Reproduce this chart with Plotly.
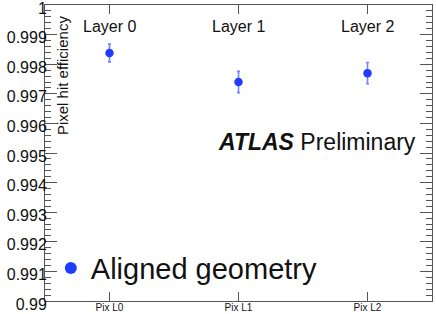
import plotly.graph_objects as go

layers = ["Pix L0", "Pix L1", "Pix L2"]
layer_pos = [0.5, 1.5, 2.5]
efficiency = [0.99838, 0.99740, 0.99770]
eff_err = [0.00030, 0.00036, 0.00036]
layer_names = ["Layer 0", "Layer 1", "Layer 2"]
ytick_vals = [0.99, 0.991, 0.992, 0.993, 0.994, 0.995, 0.996, 0.997, 0.998, 0.999, 1.0]
ytick_text = ["0.99", "0.991", "0.992", "0.993", "0.994", "0.995", "0.996", "0.997", "0.998", "0.999", "1"]

font = "Liberation Sans, Arial, sans-serif"
frame = "#555555"

fig = go.Figure()
fig.add_trace(go.Scatter(
    x=layer_pos, y=efficiency, mode="markers", name="Aligned geometry",
    marker=dict(color="#1f3cff", size=8.5),
    error_y=dict(type="data", array=eff_err, color="#6f86ff", thickness=1.6, width=1.5),
))

for xp, nm in zip(layer_pos, layer_names):
    fig.add_annotation(x=xp, y=0.99929, xref="x", yref="y", text=nm, showarrow=False,
                       font=dict(family=font, size=16, color="#111"))

fig.add_annotation(x=0.964, y=0.99537, xref="paper", yref="y", xanchor="right",
                   text="<b><i>ATLAS</i></b> Preliminary", showarrow=False,
                   font=dict(family=font, size=23, color="#111"))
fig.add_annotation(x=0.044, y=0.76, xref="paper", yref="paper",
                   xanchor="center", yanchor="middle", textangle=-90,
                   text="Pixel hit efficiency", showarrow=False,
                   font=dict(family=font, size=15, color="#111"))

fig.update_layout(
    width=436, height=314,
    margin=dict(l=45, r=4, t=5, b=13),
    paper_bgcolor="white", plot_bgcolor="white",
    showlegend=True,
    legend=dict(x=0.015, y=0.111, xanchor="left", yanchor="middle",
                font=dict(family=font, size=29, color="#111"),
                bgcolor="rgba(0,0,0,0)", itemsizing="constant", itemwidth=30),
    xaxis=dict(range=[0, 3], tickvals=layer_pos, ticktext=layers,
               ticks="inside", ticklen=9, tickcolor=frame, mirror="ticks",
               showline=True, linecolor=frame, linewidth=1, showgrid=False,
               zeroline=False, automargin=False, ticklabelstandoff=-3,
               ticklabeloverflow="allow",
               tickfont=dict(family=font, size=10, color="#111")),
    yaxis=dict(range=[0.99, 1.000002], tickvals=ytick_vals, ticktext=ytick_text,
               ticks="inside", ticklen=12, tickcolor=frame, mirror="ticks",
               showline=True, linecolor=frame, linewidth=1, showgrid=False,
               zeroline=False, automargin=False, ticklabelstandoff=-6,
               ticklabelshift=3, ticklabeloverflow="allow",
               tickfont=dict(family=font, size=16, color="#111"),
               minor=dict(ticks="inside", ticklen=6, tickcolor=frame, dtick=0.0002, showgrid=False)),
)
fig.write_html("out.html", config={"displayModeBar": False},
               post_script="document.body.style.margin='0';document.body.style.overflow='hidden';")
